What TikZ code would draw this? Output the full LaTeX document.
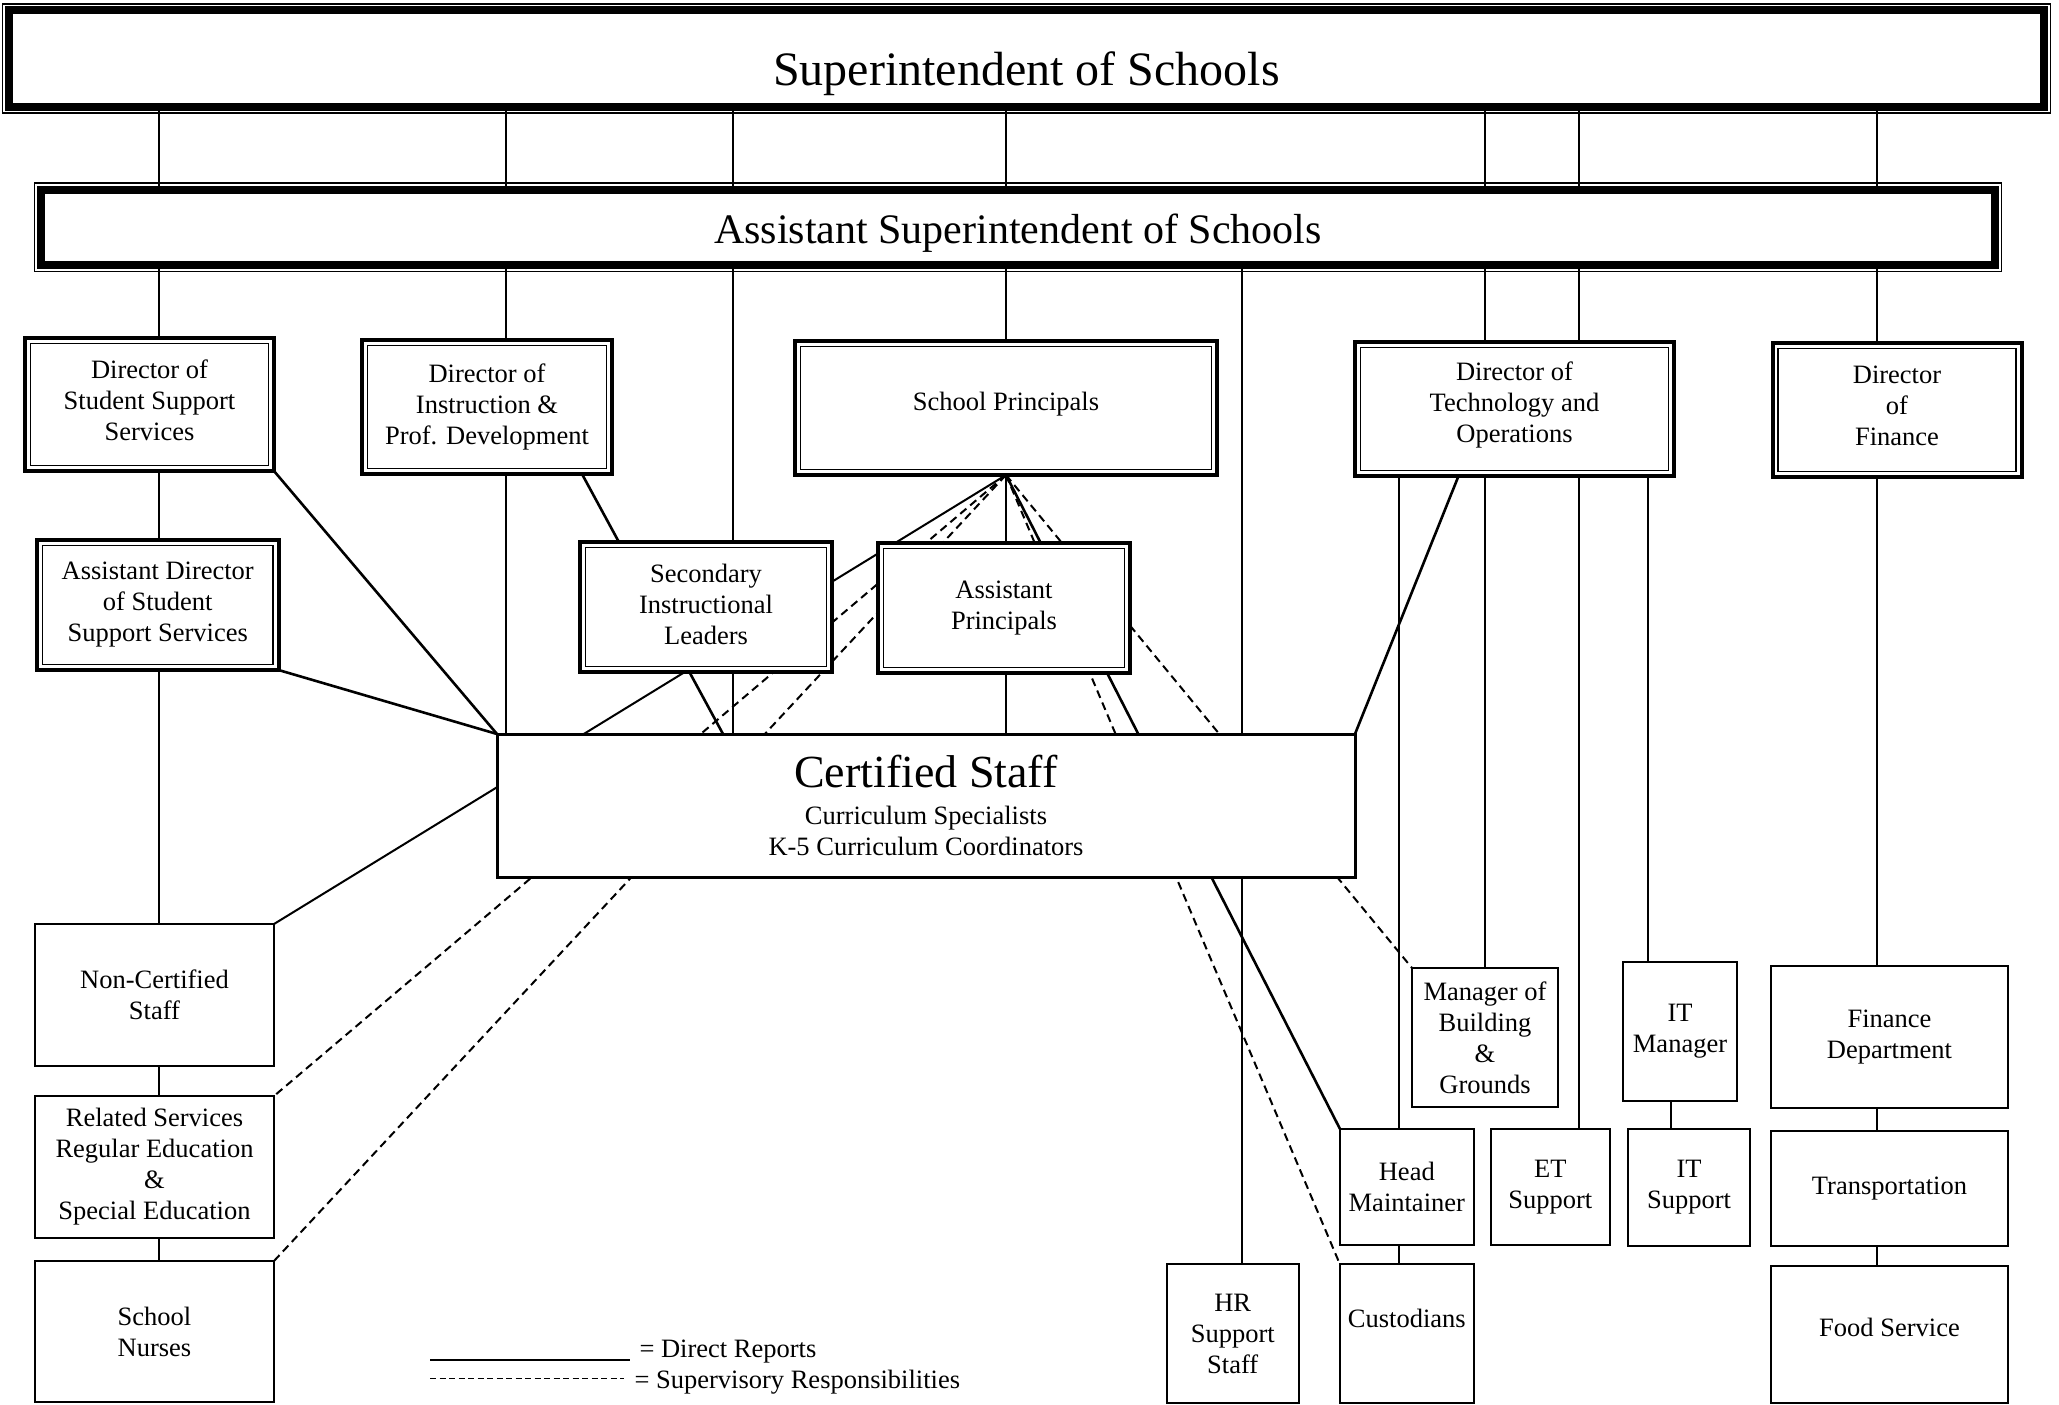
\documentclass[tikz,border=0pt]{standalone}
\usepackage{fontspec}
\setmainfont{Liberation Serif}
\usetikzlibrary{positioning,backgrounds}

\newcommand{\unitfont}{\fontsize{26.5}{31}\selectfont}

\tikzset{
  boxsize/.style 2 args={minimum width=#1pt, minimum height=#2pt},
  headbox/.style={draw, line width=8pt, fill=white, inner sep=0pt, outer sep=0pt},
  dirbox/.style={draw, line width=4pt, fill=white, inner sep=0pt, outer sep=0pt, align=center, font=\unitfont},
  unitbox/.style={draw, line width=2pt, fill=white, inner sep=0pt, outer sep=0pt, align=center, font=\unitfont},
  report/.style={line width=2pt},
  reportthick/.style={line width=2.6pt},
  supervise/.style={line width=2pt, dash pattern=on 8pt off 5pt},
}

\begin{document}
\begin{tikzpicture}[x=1pt, y=-1pt]
  \useasboundingbox (0,0) rectangle (2059,1405);

  % top of the chart
  \node[headbox, boxsize={2035}{96}, font=\fontsize{48}{52}\selectfont, text height=53pt, text depth=0pt] (supt) at (1026.5,58.5) {Superintendent of Schools};
  \node[headbox, boxsize={1954}{75.5}, font=\fontsize{42}{46}\selectfont, text height=32pt, text depth=0pt] (asst) at (1018,227.25) {Assistant Superintendent of Schools};

  % directors
  \node[dirbox, boxsize={249}{133}, text depth=8pt] (dirsss) at (149.5,404.5) {Director of\\Student Support\\Services};
  \node[dirbox, boxsize={250}{134}] (dirinstr) at (487,407) {Director of\\Instruction \&\\Prof. Development};
  \node[dirbox, boxsize={422}{134}, text depth=14pt] (sp) at (1006,408) {School Principals};
  \node[dirbox, boxsize={319}{134}, text depth=13pt] (dirtech) at (1514.5,409) {Director of\\Technology and\\Operations};
  \node[dirbox, boxsize={249}{134}, text depth=8pt] (dirfin) at (1897,410) {Director\\of\\Finance};

  \node[dirbox, boxsize={241.5}{130}] (asstdir) at (157.75,605) {Assistant Director\\of Student\\Support Services};
  \node[dirbox, boxsize={252}{130}, text depth=6pt] (sil) at (706,607) {Secondary\\Instructional\\Leaders};
  \node[dirbox, boxsize={252}{130}] (ap) at (1004,608) {Assistant\\Principals};

  % staff
  \node[unitbox, line width=3pt, boxsize={858}{143}] (cs) at (926,805.5)
    {{\fontsize{46}{50}\selectfont Certified Staff}\\[6pt]Curriculum Specialists\\K-5 Curriculum Coordinators};

  \node[unitbox, boxsize={239}{142}] (noncert) at (154.5,995) {Non-Certified\\Staff};
  \node[unitbox, boxsize={239}{142}, below=30pt of noncert] (related) {Related Services\\Regular Education\\\&\\Special Education};
  \node[unitbox, boxsize={239}{141}, below=23pt of related] (nurses) {School\\Nurses};

  \node[unitbox, boxsize={146}{139}] (mgrbg) at (1485,1037.5) {Manager of\\Building\\\&\\Grounds};
  \node[unitbox, boxsize={114}{139}] (itmgr) at (1680,1031.5) {IT\\Manager};
  \node[unitbox, boxsize={237}{142.5}] (findept) at (1889.5,1036.75) {Finance\\Department};
  \node[unitbox, boxsize={237}{115}, below=23pt of findept] (transp) {Transportation};
  \node[unitbox, boxsize={237}{137}, below=20pt of transp, text depth=15pt] (food) {Food Service};

  \node[unitbox, boxsize={133.6}{116}] (headm) at (1406.8,1187) {Head\\Maintainer};
  \node[unitbox, boxsize={119.4}{116}] (etsup) at (1550.3,1187) {ET\\Support};
  \node[unitbox, boxsize={122}{117}] (itsup) at (1689,1187.5) {IT\\Support};
  \node[unitbox, boxsize={134}{139}, below=19pt of headm, text depth=30pt] (custod) {Custodians};
  \node[unitbox, boxsize={132.5}{139}] (hrsup) at (1232.75,1333.5) {HR\\Support\\Staff};

  % second frame lines
  \foreach \n in {supt,asst}
    \draw[line width=1.6pt] ([shift={(-6.5pt,6.5pt)}]\n.north west) rectangle ([shift={(6.5pt,-6.5pt)}]\n.south east);
  \foreach \n in {dirsss,dirinstr,sp,dirtech,dirfin,asstdir,sil,ap}
    \draw[line width=1.6pt] ([shift={(5.5pt,-5.5pt)}]\n.north west) rectangle ([shift={(-5.5pt,5.5pt)}]\n.south east);

  % legend
  \node[anchor=base west, font=\unitfont] (lgdirect) at (636,1357) {= Direct Reports};
  \node[anchor=base west, font=\unitfont] (lgsuperv) at (631,1388) {= Supervisory Responsibilities};
  \draw[report] ([xshift=-206pt,yshift=-3pt]lgdirect.base west) -- ([xshift=-6pt,yshift=-3pt]lgdirect.base west);
  \draw[line width=1.8pt, dash pattern=on 6pt off 3.5pt] ([xshift=-201pt,yshift=9.5pt]lgsuperv.base west) -- ([xshift=-7pt,yshift=9.5pt]lgsuperv.base west);

  \coordinate (colA) at (159,0);
  \coordinate (colB) at (506,0);
  \coordinate (colC) at (733,0);
  \coordinate (colE) at (1241.5,0);
  \coordinate (colF) at (1398.5,0);
  \coordinate (colH) at (1579,0);
  \coordinate (colI) at (1647.5,0);
  \coordinate (colJ) at (1877,0);

  \begin{scope}[on background layer]
    \fill[white] (0,0) rectangle (2059,1405);
    % direct reports, vertical
    \draw[report] (colA |- supt.south) -- (colA |- nurses.north);
    \draw[report] (colB |- supt.south) -- (colB |- cs.north);
    \draw[report] (colC |- supt.south) -- (colC |- cs.north);
    \draw[report] (sp.north |- supt.south) -- (sp.south |- cs.north);
    \draw[report] (colE |- asst.south) -- (colE |- hrsup.north);
    \draw[report] (mgrbg.north |- supt.south) -- (mgrbg.north);
    \draw[report] (colH |- supt.south) -- (colH |- etsup.north);
    \draw[report] (colF |- dirtech.south) -- (colF |- custod.north);
    \draw[report] (colI |- dirtech.south) -- (colI |- itmgr.north);
    \draw[report] ([xshift=-9pt]itmgr.south) -- ([xshift=-9pt]itmgr.south |- itsup.north);
    \draw[report] (colJ |- supt.south) -- (colJ |- food.north);
    % direct reports, slanted
    \draw[reportthick] (dirsss.south east) -- (cs.north west);
    \draw[reportthick] (asstdir.south east) -- (cs.north west);
    \draw[reportthick] ([xshift=95pt]dirinstr.south) -- ([xshift=-203pt]cs.north);
    \draw[reportthick] ([xshift=-56pt]dirtech.south) -- (cs.north east);
    \draw[report] (sp.south) -- (noncert.north east);
    \draw[reportthick] (sp.south) -- (headm.north west);
    % supervisory responsibilities
    \draw[supervise] (sp.south) -- (related.north east);
    \draw[supervise] (sp.south) -- (nurses.north east);
    \draw[supervise] (sp.south) -- (custod.north west);
    \draw[supervise] (sp.south) -- (mgrbg.north west);
  \end{scope}
\end{tikzpicture}
\end{document}
